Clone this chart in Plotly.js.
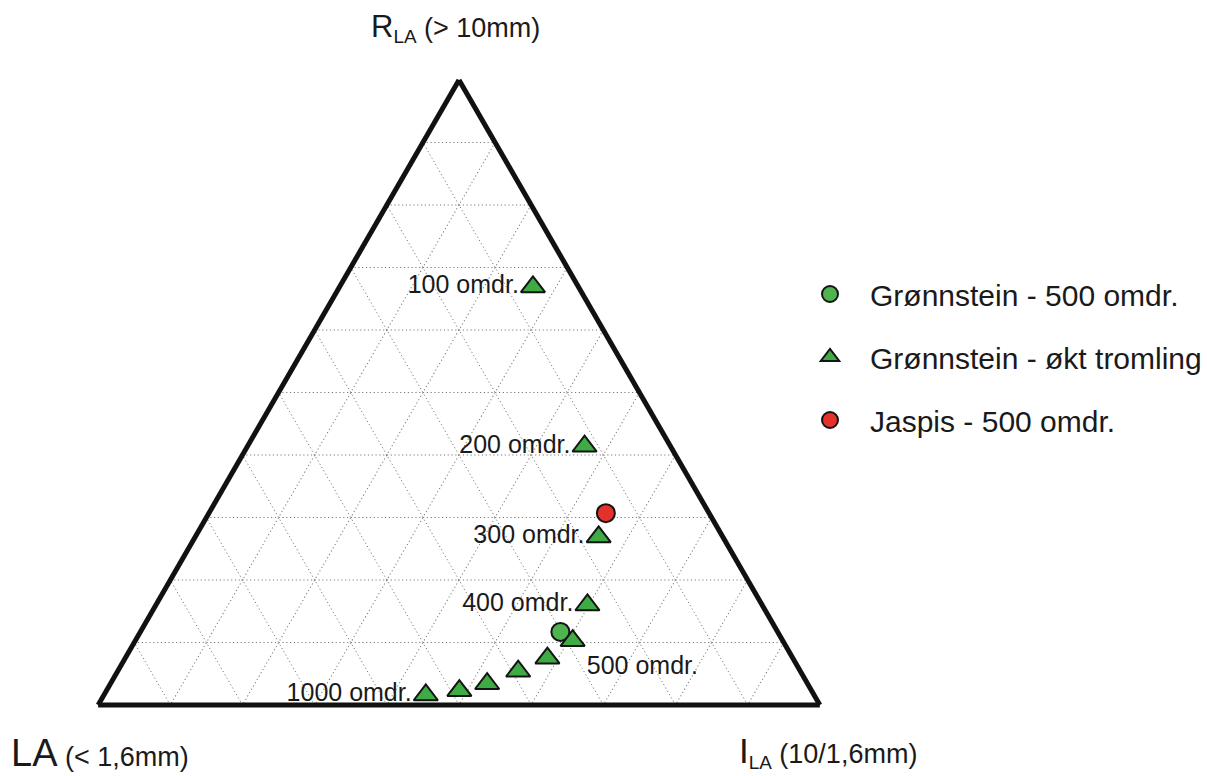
<!DOCTYPE html>
<html>
<head>
<meta charset="utf-8">
<script src="https://cdn.plot.ly/plotly-3.0.1.min.js"></script>
<style>
  html, body { margin: 0; padding: 0; background: #ffffff; }
  #chart { width: 1207px; height: 776px; }
</style>
</head>
<body>
<div id="chart"></div>
<script>
// ---- Data (fractions) ----
// Axis a = R_LA (> 10mm), b = LA (< 1,6mm), c = I_LA (10/1,6mm)

// Grønnstein - økt tromling (100 ... 1000 omdr.)
const tromlingLabels = ["100 omdr.", "200 omdr.", "300 omdr.", "400 omdr.", "500 omdr.", "", "", "", "", "1000 omdr."];
const tromlingRLA = [0.669, 0.414, 0.269, 0.160, 0.103, 0.075, 0.054, 0.034, 0.023, 0.016];
const tromlingLA  = [0.063, 0.119, 0.172, 0.242, 0.291, 0.340, 0.391, 0.444, 0.488, 0.538];
const tromlingILA = [0.268, 0.467, 0.559, 0.598, 0.606, 0.585, 0.555, 0.522, 0.489, 0.446];
const tromlingLabelPos = ["middle left", "middle left", "middle left", "middle left", "bottom right",
                          "middle left", "middle left", "middle left", "middle left", "middle left"];

// Grønnstein - 500 omdr.
const gronnRLA = [0.117];
const gronnLA  = [0.301];
const gronnILA = [0.582];

// Jaspis - 500 omdr.
const jaspisRLA = [0.307];
const jaspisLA  = [0.143];
const jaspisILA = [0.550];

const seriesNames = ["Grønnstein - 500 omdr.", "Grønnstein - økt tromling", "Jaspis - 500 omdr."];

// ---- Styles ----
const FONT = "Liberation Sans, Arial, Helvetica, sans-serif";
const TXT = "#1a1a1a";

// only the labelled points of the økt-tromling series get a text label
const labelIdx = tromlingLabels.map((t, i) => (t ? i : -1)).filter(i => i >= 0);
const pick = arr => labelIdx.map(i => arr[i]);

const traces = [
  {
    type: "scatterternary", mode: "markers", name: seriesNames[0], legendgroup: "g1",
    a: gronnRLA, b: gronnLA, c: gronnILA,
    marker: { symbol: "circle", size: 18, color: "#4fb34f", line: { color: "#141414", width: 2 } },
    cliponaxis: false, hoverinfo: "skip"
  },
  {
    type: "scatterternary", mode: "markers", name: seriesNames[1], legendgroup: "g2",
    a: tromlingRLA, b: tromlingLA, c: tromlingILA,
    marker: { symbol: "triangle-up", size: 21, color: "#3eab44", line: { color: "#141414", width: 2 } },
    cliponaxis: false, hoverinfo: "skip"
  },
  {
    type: "scatterternary", mode: "markers", name: seriesNames[2], legendgroup: "g3",
    a: jaspisRLA, b: jaspisLA, c: jaspisILA,
    marker: { symbol: "circle", size: 18, color: "#e3322c", line: { color: "#141414", width: 2 } },
    cliponaxis: false, hoverinfo: "skip"
  },
  {
    type: "scatterternary", mode: "markers+text", name: "labels", legendgroup: "g2", showlegend: false,
    a: pick(tromlingRLA), b: pick(tromlingLA), c: pick(tromlingILA),
    text: pick(tromlingLabels), textposition: pick(tromlingLabelPos),
    textfont: { family: FONT, size: 25, color: TXT },
    marker: { symbol: "triangle-up", size: 21, opacity: 0 },
    cliponaxis: false, hoverinfo: "skip"
  }
];

function axisStyle() {
  return {
    min: 0,
    showticklabels: false,
    ticks: "",
    tickmode: "linear", tick0: 0, dtick: 0.1,
    showgrid: true, gridcolor: "#7a7a7a", gridwidth: 1, griddash: "1.2px,2.6px",
    showline: true, linecolor: "#111111", linewidth: 5,
    layer: "below traces",
    title: { text: "" }
  };
}

const layout = {
  width: 1207, height: 776,
  margin: { l: 0, r: 0, t: 0, b: 0, pad: 0 },
  paper_bgcolor: "#ffffff",
  plot_bgcolor: "#ffffff",
  font: { family: FONT, color: TXT },
  hovermode: false,
  ternary: {
    sum: 1,
    domain: { x: [98 / 1207, 820 / 1207], y: [1 - 705 / 776, 1 - 80 / 776] },
    bgcolor: "#ffffff",
    aaxis: axisStyle(),
    baxis: axisStyle(),
    caxis: axisStyle()
  },
  showlegend: true,
  legend: {
    x: 790 / 1207, y: 1 - 268 / 776, xanchor: "left", yanchor: "top",
    font: { family: FONT, size: 30, color: TXT },
    bgcolor: "rgba(0,0,0,0)", borderwidth: 0,
    itemwidth: 70, itemsizing: "trace",
    traceorder: "grouped", tracegroupgap: 21
  },
  annotations: [
    {
      xref: "paper", yref: "paper", x: 455 / 1207, y: 1 - 28 / 776, xanchor: "center", yanchor: "middle",
      showarrow: false, font: { family: FONT, size: 27, color: TXT },
      text: '<span style="font-size:31px">R</span><sub>LA</sub> (&gt; 10mm)'
    },
    {
      xref: "paper", yref: "paper", x: 100 / 1207, y: 1 - 753 / 776, xanchor: "center", yanchor: "middle",
      showarrow: false, font: { family: FONT, size: 27, color: TXT },
      text: '<span style="font-size:38px">LA</span> (&lt; 1,6mm)'
    },
    {
      xref: "paper", yref: "paper", x: 828 / 1207, y: 1 - 752 / 776, xanchor: "center", yanchor: "middle",
      showarrow: false, font: { family: FONT, size: 27, color: TXT },
      text: '<span style="font-size:35px">I</span><sub>LA</sub> (10/1,6mm)'
    }
  ]
};

Plotly.newPlot("chart", traces, layout, { displayModeBar: false, staticPlot: true });
</script>
</body>
</html>
